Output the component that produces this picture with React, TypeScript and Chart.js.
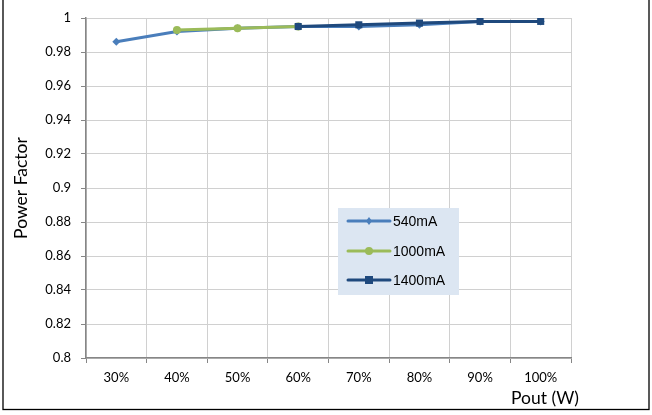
import React, { useEffect, useRef } from "react";
import { Chart, registerables } from "chart.js";

Chart.register(...registerables);

const categories = ["30%", "40%", "50%", "60%", "70%", "80%", "90%", "100%"];
const pf540 = [0.986, 0.992, 0.994, 0.995, 0.995, 0.996, 0.998, 0.998];
const pf1000 = [null, 0.993, 0.994, 0.995, null, null, null, null];
const pf1400 = [null, null, null, 0.995, 0.996, 0.997, 0.998, 0.998];
const seriesNames = ["540mA", "1000mA", "1400mA"];
const yMin = 0.8;
const yMax = 1;
const yStep = 0.02;

const C540 = "#4A7EBB";
const C1000 = "#9BBB59";
const C1400 = "#1F497D";

const TICK_FONT = "Lato, 'Open Sans', sans-serif";

const framePlugin = {
  id: "frame",
  beforeDraw(chart: any) {
    const ctx = chart.ctx;
    ctx.save();
    ctx.fillStyle = "#ffffff";
    ctx.fillRect(0, 0, chart.width, chart.height);
    ctx.strokeStyle = "#000000";
    ctx.lineWidth = 1.3;
    ctx.strokeRect(3, -5, chart.width - 6, chart.height - 0.5);
    ctx.restore();
  },
  afterDraw(chart: any) {
    const ctx = chart.ctx;
    const area = chart.chartArea;
    ctx.save();
    // x axis title
    ctx.font = "17.5px " + TICK_FONT;
    ctx.fillStyle = "#000";
    ctx.textAlign = "right";
    ctx.textBaseline = "middle";
    ctx.fillText("Pout (W)", area.right + 8, 398);

    // legend
    const bx = 338, by = 208, bw = 121, bh = 87;
    ctx.fillStyle = "#DCE6F2";
    ctx.fillRect(bx, by, bw, bh);
    const rows = [221, 251, 280];
    chart.data.datasets.forEach((ds: any, i: number) => {
      const y = rows[i];
      ctx.strokeStyle = ds.borderColor;
      ctx.lineWidth = 3;
      ctx.lineCap = "round";
      ctx.beginPath();
      ctx.moveTo(348, y);
      ctx.lineTo(390, y);
      ctx.stroke();
      ctx.fillStyle = ds.borderColor;
      const cx = 369;
      if (ds.pointStyle === "rectRot") {
        ctx.beginPath();
        ctx.moveTo(cx, y - 4);
        ctx.lineTo(cx + 3, y);
        ctx.lineTo(cx, y + 4);
        ctx.lineTo(cx - 3, y);
        ctx.closePath();
        ctx.fill();
      } else if (ds.pointStyle === "circle") {
        ctx.beginPath();
        ctx.arc(cx, y, 4, 0, Math.PI * 2);
        ctx.fill();
      } else {
        ctx.fillRect(cx - 4, y - 4, 8, 8);
      }
      ctx.fillStyle = "#000";
      ctx.font = "14px 'Liberation Sans', Arial, sans-serif";
      ctx.textAlign = "left";
      ctx.textBaseline = "middle";
      ctx.fillText(ds.label, 393, y + 1);
    });
    ctx.restore();
  },
};

export default function App() {
  const ref = useRef<HTMLCanvasElement | null>(null);
  useEffect(() => {
    if (!ref.current) return;
    const chart = new Chart(ref.current, {
      type: "line",
      data: {
        labels: categories,
        datasets: [
          {
            label: seriesNames[0],
            data: pf540,
            borderColor: C540,
            backgroundColor: C540,
            borderWidth: 3,
            pointStyle: "rectRot",
            pointRadius: 4,
            pointBorderWidth: 0,
            order: 3,
          },
          {
            label: seriesNames[1],
            data: pf1000 as any,
            borderColor: C1000,
            backgroundColor: C1000,
            borderWidth: 3,
            pointStyle: "circle",
            pointRadius: 4,
            pointBorderWidth: 0,
            order: 2,
          },
          {
            label: seriesNames[2],
            data: pf1400 as any,
            borderColor: C1400,
            backgroundColor: C1400,
            borderWidth: 3,
            pointStyle: "rect",
            pointRadius: 5,
            pointBorderWidth: 0,
            order: 1,
          },
        ],
      },
      options: {
        animation: false,
        responsive: false,
        maintainAspectRatio: false,
        layout: { padding: { left: 0, right: 81, top: 18, bottom: 0 } },
        plugins: {
          legend: { display: false },
          tooltip: { enabled: false },
        },
        scales: {
          x: {
            type: "category",
            offset: true,
            grid: {
              display: true,
              offset: true,
              color: "#D0D0D0",
              lineWidth: 1,
              drawTicks: true,
              tickLength: 5,
              tickColor: "#868686",
            },
            border: { display: true, color: "#868686", width: 1.5 },
            ticks: {
              color: "#000",
              font: { family: TICK_FONT, size: 13 },
              padding: 7,
              maxRotation: 0,
            },
            afterFit(scale: any) {
              scale.height = 57;
            },
          },
          y: {
            type: "linear",
            min: yMin,
            max: yMax,
            grid: {
              color: "#D0D0D0",
              lineWidth: 1,
              drawTicks: true,
              tickLength: 5,
              tickColor: "#868686",
            },
            border: { display: true, color: "#868686", width: 1.5 },
            ticks: {
              stepSize: yStep,
              color: "#000",
              font: { family: TICK_FONT, size: 13 },
              padding: 10,
              callback: (v: any) => String(+Number(v).toFixed(2)),
            },
            title: {
              display: true,
              text: "Power Factor",
              color: "#000",
              font: { family: TICK_FONT, size: 17.5 },
              padding: { top: 11, bottom: 0 },
            },
            afterFit(scale: any) {
              scale.width = 86;
            },
          },
        },
      },
      plugins: [framePlugin],
    });
    return () => chart.destroy();
  }, []);
  return (
    <div style={{ position: "fixed", left: 0, top: 0, width: 652, height: 415 }}>
      <canvas ref={ref} width={652} height={415} style={{ width: 652, height: 415, display: "block" }} />
    </div>
  );
}
